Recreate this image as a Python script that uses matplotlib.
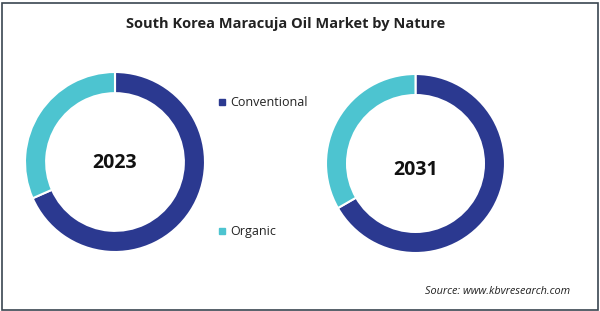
import matplotlib
matplotlib.use("Agg")
from matplotlib import pyplot as plt
from matplotlib.patches import Rectangle

# data
segments = ["Conventional", "Organic"]
years = ["2023", "2031"]
share_2023 = [68.4, 31.6]
share_2031 = [66.7, 33.3]
colors = ["#2b3990", "#4dc4d0"]

W, H = 600, 311
fig = plt.figure(figsize=(W / 100, H / 100), dpi=100)
fig.patch.set_facecolor("white")

def px_axes(cx, cy, r):
    return fig.add_axes([(cx - r) / W, (H - cy - r) / H, 2 * r / W, 2 * r / H])

for (cx, cy, r), vals, yr, ty in [((115, 162, 90), share_2023, years[0], -0.01),
                                  ((415.5, 163.5, 89.5), share_2031, years[1], -0.075)]:
    ax = px_axes(cx, cy, r)
    ax.pie(vals, colors=colors, startangle=90, counterclock=False, radius=1,
           wedgeprops=dict(width=0.235, edgecolor="white", linewidth=1.5))
    ax.set_xlim(-1, 1)
    ax.set_ylim(-1, 1)
    ax.set_aspect("equal")
    ax.text(0, ty, yr, ha="center", va="center", fontsize=14, fontweight="bold",
            family="Open Sans", color="#111111")

# title
fig.text(286 / W, 1 - 24 / H, "South Korea Maracuja Oil Market by Nature",
         ha="center", va="center", fontsize=10.5, fontweight="bold",
         family="Open Sans", color="#222222")

# legend
for lab, col, y in zip(segments, colors, [102, 231]):
    fig.patches.append(Rectangle(((219) / W, 1 - (y + 3) / H), 6 / W, 6 / H,
                                 transform=fig.transFigure, color=col))
    fig.text(230 / W, 1 - y / H, lab, ha="left", va="center", fontsize=9,
             family="Open Sans", color="#222222")

# source
fig.text(570 / W, 1 - 291 / H, "Source: www.kbvresearch.com", ha="right",
         va="center", fontsize=7.8, style="italic", family="Open Sans",
         color="#222222")

# frame
fig.patches.append(Rectangle((1.5 / W, 1.5 / H), (W - 4) / W, (H - 4) / H,
                             transform=fig.transFigure, fill=False,
                             edgecolor="#3a4650", linewidth=1.2))

fig.savefig("out.png", dpi=100)
